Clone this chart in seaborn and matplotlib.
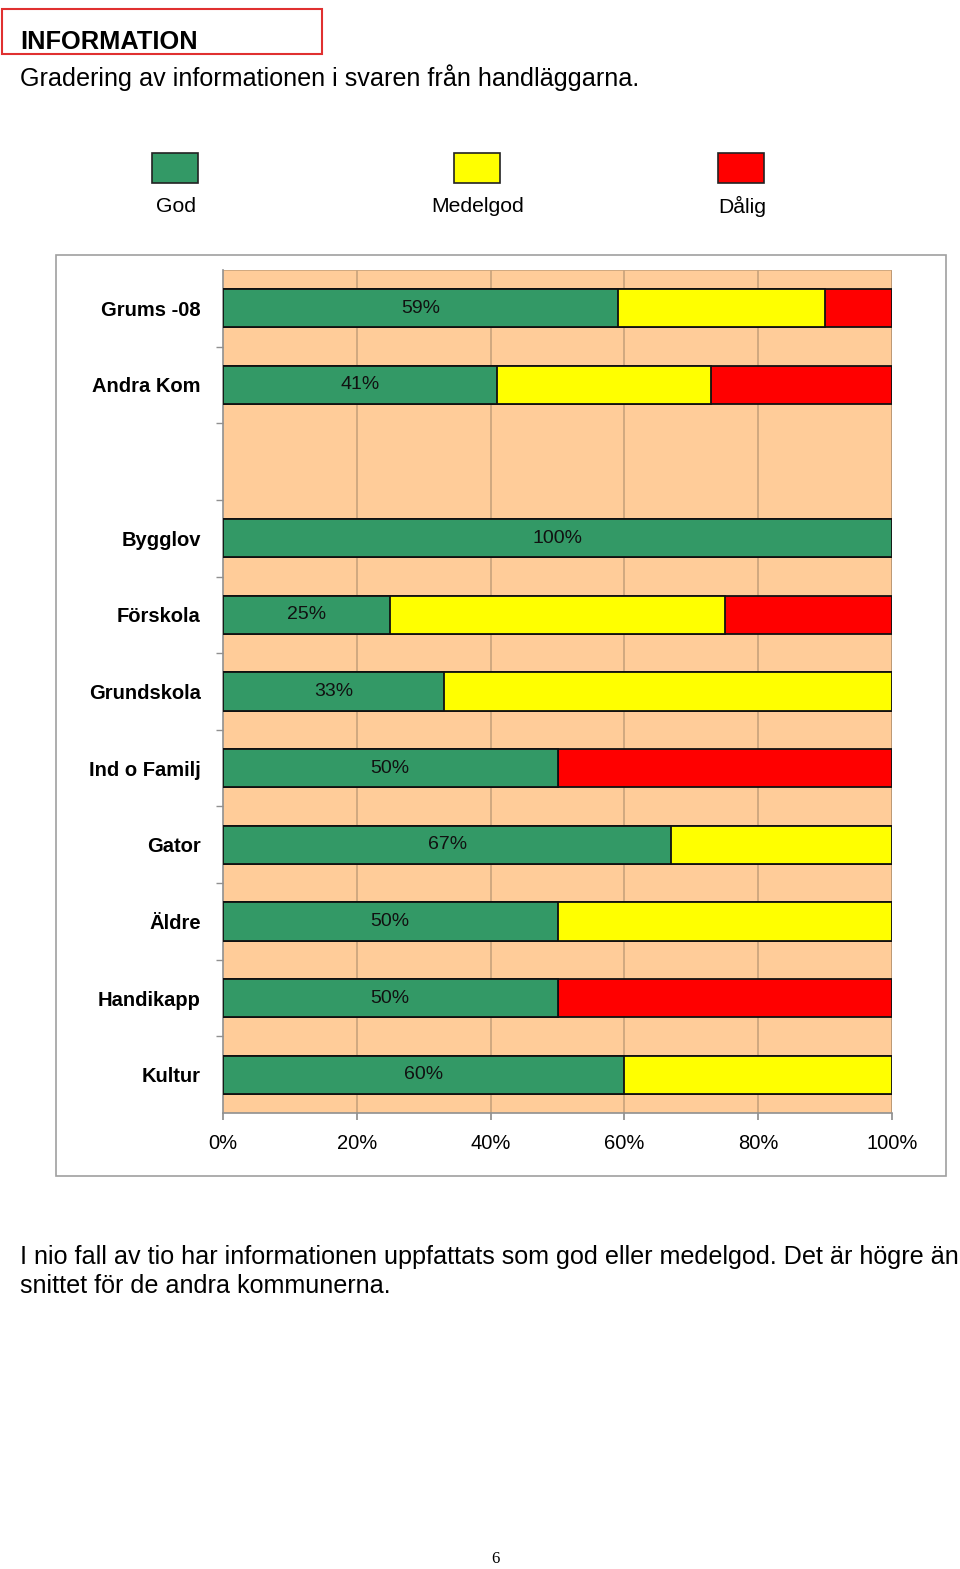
import numpy as np
import matplotlib
matplotlib.use("Agg")
import matplotlib.pyplot as plt
from matplotlib.patches import Rectangle
import pandas as pd
import seaborn as sns

#%% Data
kategorier = ["Grums -08", "Andra Kom", " ", "Bygglov", "Förskola", "Grundskola",
              "Ind o Familj", "Gator", "Äldre", "Handikapp", "Kultur"]
god = [59, 41, np.nan, 100, 25, 33, 50, 67, 50, 50, 60]
medelgod = [31, 32, np.nan, 0, 50, 67, 0, 33, 50, 0, 40]
dalig = [10, 27, np.nan, 0, 25, 0, 50, 0, 0, 50, 0]
serier = ["God", "Medelgod", "Dålig"]
farger = ["#339966", "#FFFF00", "#FF0000"]
xticks = [0, 20, 40, 60, 80, 100]

df = pd.DataFrame({"kategori": kategorier, "God": god, "Medelgod": medelgod, "Dålig": dalig})
df["c_god"] = df["God"]
df["c_medel"] = df["God"] + df["Medelgod"]
df["c_dalig"] = df["God"] + df["Medelgod"] + df["Dålig"]
plotdf = df.dropna()

#%% Figur
sns.set_theme(style="white")
plt.rcParams["font.family"] = ["Liberation Sans", "DejaVu Sans"]
plt.rcParams["text.color"] = "black"
plt.rcParams["xtick.color"] = "black"
plt.rcParams["ytick.color"] = "black"
plt.rcParams["xtick.labelcolor"] = "black"
plt.rcParams["ytick.labelcolor"] = "black"

fig = plt.figure(figsize=(9.6, 15.69), dpi=100)
W, H = 960, 1569

def fx(px):
    return px / W

def fy(py):
    return 1 - py / H

# rubrik
fig.patches.append(Rectangle((fx(2), fy(54)), fx(320), 45 / H, transform=fig.transFigure,
                             fill=False, edgecolor="#e03030", linewidth=1.5))
fig.text(fx(20), fy(42), "INFORMATION", fontsize=18.3, fontweight="bold", va="center", ha="left")
fig.text(fx(20), fy(78), "Gradering av informationen i svaren från handläggarna.",
         fontsize=18.1, va="center", ha="left")

# ram runt diagrammet
fig.patches.append(Rectangle((fx(56), fy(1176)), fx(890), 921 / H, transform=fig.transFigure,
                             fill=False, edgecolor="#a0a0a0", linewidth=1.2))

# legend
leg_x = [175, 477, 741]
for namn, farg, lx in zip(serier, farger, leg_x):
    fig.patches.append(Rectangle((fx(lx - 23), fy(183)), fx(46), 30 / H, transform=fig.transFigure,
                                 facecolor=farg, edgecolor="#222222", linewidth=1.2))
    fig.text(fx(lx + 1), fy(206), namn, fontsize=15.2, ha="center", va="center")

ax = fig.add_axes([fx(223), fy(1113), fx(892 - 223), (1113 - 270) / H])
ax.set_facecolor("#FFCC99")

for kol, farg in zip(["c_dalig", "c_medel", "c_god"], farger[::-1]):
    sns.barplot(data=plotdf, x=kol, y="kategori", order=kategorier, color=farg,
                orient="h", width=0.5, edgecolor="#111111", linewidth=1.3,
                saturation=1, ax=ax, zorder=3)

# procent i gröna delen
for i, row in df.iterrows():
    if np.isnan(row["God"]):
        continue
    ax.text(row["God"] / 2, i, f"{row['God']:.0f}%", ha="center", va="center",
            fontsize=14, color="#111111", zorder=5)

ax.set_xlim(0, 100)
ax.set_ylim(len(kategorier) - 0.5, -0.5)
ax.set_xticks(xticks)
ax.set_xticklabels([f"{t}%" for t in xticks], fontsize=14.5)
ax.set_yticks(range(len(kategorier)))
ax.set_yticklabels(kategorier, fontsize=14.5, fontweight="bold")
ax.set_yticks(np.arange(0.5, len(kategorier) - 0.5, 1), minor=True)
ax.set_xlabel("")
ax.set_ylabel("")
for t in xticks[1:-1]:
    ax.axvline(t, color="#c8a27c", linewidth=1.2, zorder=1)
ax.tick_params(axis="x", length=5, color="#909090", pad=10, bottom=True)
ax.tick_params(axis="y", which="major", length=0, pad=16)
ax.tick_params(axis="y", which="minor", length=5, color="#909090", left=True)
for s in ["top", "right"]:
    ax.spines[s].set_visible(False)
for s in ["left", "bottom"]:
    ax.spines[s].set_color("#909090")
    ax.spines[s].set_linewidth(1.2)
ax.axvline(100, color="#b09070", linewidth=1.2, zorder=1)
ax.axhline(-0.5, color="#c8a27c", linewidth=1.2, zorder=1)

# text under diagrammet
fig.text(fx(20), fy(1257), "I nio fall av tio har informationen uppfattats som god eller medelgod. Det är högre än",
         fontsize=18.1, va="center", ha="left")
fig.text(fx(20), fy(1286), "snittet för de andra kommunerna.", fontsize=18.1, va="center", ha="left")
fig.text(fx(495), fy(1559), "6", fontsize=12, family=["Liberation Serif", "DejaVu Serif"],
         ha="center", va="center")

fig.savefig("out.png", dpi=100, facecolor="white")
